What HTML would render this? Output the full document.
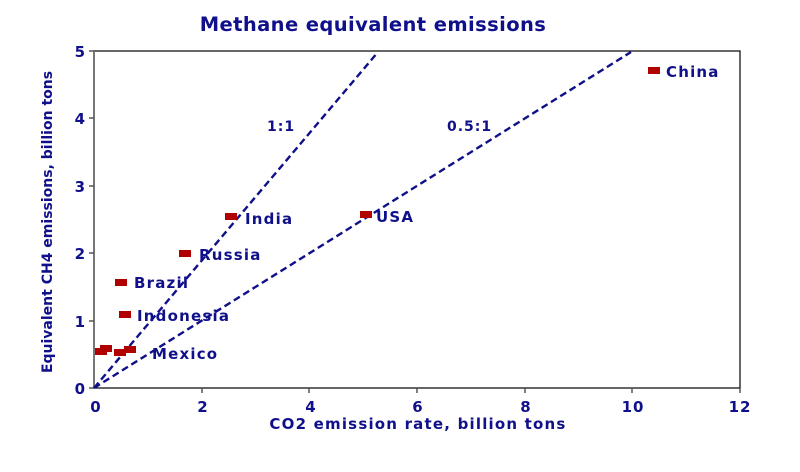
<!DOCTYPE html>
<html><head><meta charset="utf-8"><style>
body{margin:0;background:#fff}
svg{display:block}
text{font-family:"DejaVu Sans","Liberation Sans",sans-serif;fill:#10108a;font-weight:bold}
</style></head><body>
<svg width="800" height="472" viewBox="0 0 800 472">
<text x="373" y="31" font-size="19.5" text-anchor="middle" letter-spacing="0.4">Methane equivalent emissions</text>
<rect x="94" y="51" width="646" height="337" fill="none" stroke="#000" stroke-width="1.2"/>
<line x1="94" y1="51" x2="94" y2="388" stroke="#777" stroke-width="2"/>
<g stroke="#555" stroke-width="1.5">
<line x1="202" y1="388" x2="202" y2="393"/><line x1="309" y1="388" x2="309" y2="393"/><line x1="417" y1="388" x2="417" y2="393"/><line x1="525" y1="388" x2="525" y2="393"/><line x1="632" y1="388" x2="632" y2="393"/><line x1="740" y1="388" x2="740" y2="393"/>
<line x1="89" y1="51" x2="94" y2="51"/><line x1="89" y1="118" x2="94" y2="118"/><line x1="89" y1="186" x2="94" y2="186"/><line x1="89" y1="253" x2="94" y2="253"/><line x1="89" y1="321" x2="94" y2="321"/><line x1="89" y1="388" x2="94" y2="388"/>
</g>
<g font-size="15" text-anchor="middle" letter-spacing="1">
<text x="96" y="412">0</text><text x="203" y="412">2</text><text x="311" y="412">4</text><text x="418" y="412">6</text><text x="526" y="412">8</text><text x="633" y="412">10</text><text x="740" y="412">12</text>
</g>
<g font-size="15" text-anchor="end">
<text x="85" y="57">5</text><text x="85" y="124">4</text><text x="85" y="192">3</text><text x="85" y="259">2</text><text x="85" y="327">1</text><text x="85" y="394">0</text>
</g>
<text x="418" y="429" font-size="15" text-anchor="middle" letter-spacing="1.2">CO2 emission rate, billion tons</text>
<text transform="translate(52,222) rotate(-90)" font-size="14" text-anchor="middle" letter-spacing="0">Equivalent CH4 emissions, billion tons</text>
<g stroke="#10108a" stroke-width="2.4" stroke-dasharray="7,4" fill="none">
<line x1="94" y1="388" x2="378" y2="52"/>
<line x1="94" y1="388" x2="631" y2="52"/>
</g>
<text x="267" y="131" font-size="14" letter-spacing="1">1:1</text>
<text x="447" y="131" font-size="14" letter-spacing="1">0.5:1</text>
<g fill="#b00000">
<rect x="648" y="67" width="12" height="7"/>
<rect x="360" y="211" width="12" height="7"/>
<rect x="225" y="213" width="12" height="7"/>
<rect x="179" y="250" width="12" height="7"/>
<rect x="115" y="279" width="12" height="7"/>
<rect x="119" y="311" width="12" height="7"/>
<rect x="124" y="346" width="12" height="7"/>
<rect x="95" y="348" width="12" height="7"/>
<rect x="100" y="345" width="12" height="7"/>
<rect x="114" y="349" width="12" height="7"/>
</g>
<g font-size="15" letter-spacing="1.2">
<text x="666" y="77">China</text>
<text x="376" y="222">USA</text>
<text x="245" y="224">India</text>
<text x="199" y="260">Russia</text>
<text x="134" y="288">Brazil</text>
<text x="137" y="321">Indonesia</text>
<text x="152" y="359">Mexico</text>
</g>
</svg>
</body></html>
